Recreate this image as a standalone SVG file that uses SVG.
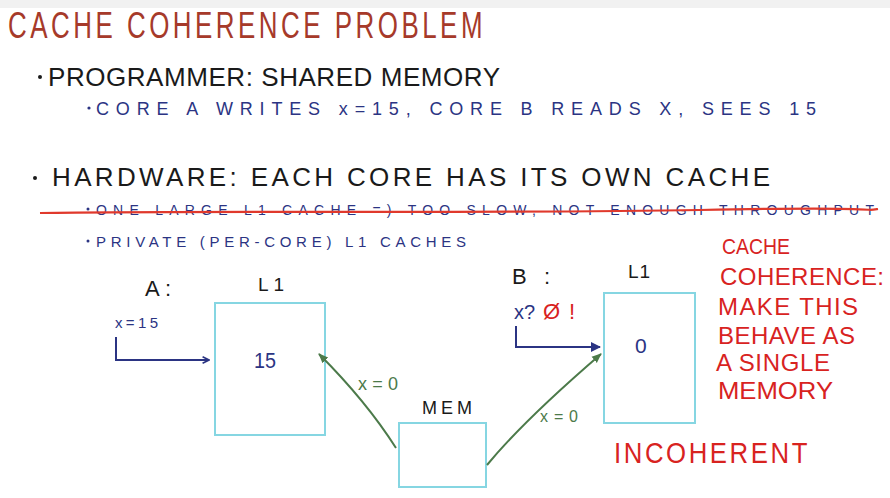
<svg xmlns="http://www.w3.org/2000/svg" width="890" height="498" viewBox="0 0 890 498">
<defs>
<style>
text{font-family:"Liberation Sans","DejaVu Sans",sans-serif;}
.title{fill:#a63a2a;font-size:37px;letter-spacing:5px;}
.blk{fill:#1a1a1a;font-size:26px;}
.blu{fill:#2b3483;font-size:18px;}
.red{fill:#d8231f;font-size:24px;}
.grn{fill:#4c7a4a;font-size:17px;}
.box{fill:none;stroke:#86d6e2;stroke-width:2;}
.bline{fill:none;stroke:#2b3483;stroke-width:2;}
.gline{fill:none;stroke:#4c7a4a;stroke-width:2;}
</style>
<marker id="ab" viewBox="0 0 10 10" refX="9" refY="5" markerWidth="8" markerHeight="8" orient="auto" markerUnits="userSpaceOnUse"><path d="M1,1 L9,5 L1,9" fill="none" stroke="#2b3483" stroke-width="2"/></marker>
<marker id="abf" viewBox="0 0 10 10" refX="9" refY="5" markerWidth="10" markerHeight="10" orient="auto" markerUnits="userSpaceOnUse"><path d="M0,0 L10,5 L0,10 Z" fill="#2b3483"/></marker>
<marker id="ag" viewBox="0 0 10 10" refX="9" refY="5" markerWidth="10" markerHeight="10" orient="auto" markerUnits="userSpaceOnUse"><path d="M0,1 L10,5 L0,9 Z" fill="#4c7a4a"/></marker>
</defs>
<rect width="890" height="498" fill="#ffffff"/>
<rect width="890" height="8" fill="#f1f1f1"/>

<g id="title"><text class="title" x="8" y="38" textLength="478" lengthAdjust="spacingAndGlyphs">CACHE COHERENCE  PROBLEM</text></g>

<g id="text-block">
<circle cx="40" cy="77" r="2" fill="#1a1a1a"/>
<text class="blk" x="48" y="86" textLength="452" lengthAdjust="spacing">PROGRAMMER: SHARED MEMORY</text>
<circle cx="89" cy="108" r="1.6" fill="#2b3483"/>
<text class="blu" x="96" y="115" textLength="720" lengthAdjust="spacing">CORE A WRITES  x=15, CORE  B READS  X, SEES 15</text>
<circle cx="35" cy="178" r="2" fill="#1a1a1a"/>
<text class="blk" x="52" y="186" textLength="718" lengthAdjust="spacing">HARDWARE: EACH CORE  HAS  ITS  OWN  CACHE</text>
<circle cx="88" cy="209" r="1.5" fill="#2b3483"/>
<text class="blu" x="96" y="215" style="font-size:14px" textLength="778" lengthAdjust="spacing">ONE LARGE L1 CACHE =) TOO SLOW, NOT ENOUGH THROUGHPUT</text>
<path d="M40,213 C200,210 500,214 700,210 S860,212 878,209" fill="none" stroke="#e0392c" stroke-width="2.2"/>
<circle cx="88" cy="241" r="1.5" fill="#2b3483"/>
<text class="blu" x="96" y="247" style="font-size:15px" textLength="370" lengthAdjust="spacing">PRIVATE (PER-CORE) L1 CACHES</text>
</g>

<g id="coherence-note">
<text class="red" x="722" y="254" style="font-size:22px" textLength="68" lengthAdjust="spacingAndGlyphs">CACHE</text>
<text class="red" x="720" y="285" textLength="164" lengthAdjust="spacing">COHERENCE:</text>
<text class="red" x="718" y="315" textLength="140" lengthAdjust="spacing">MAKE THIS</text>
<text class="red" x="718" y="344" textLength="137" lengthAdjust="spacing">BEHAVE AS</text>
<text class="red" x="716" y="371" textLength="114" lengthAdjust="spacing">A SINGLE</text>
<text class="red" x="718" y="399" textLength="115" lengthAdjust="spacingAndGlyphs">MEMORY</text>
<text class="red" x="614" y="463" style="font-size:30px;letter-spacing:3px" textLength="196" lengthAdjust="spacingAndGlyphs">INCOHERENT</text>
</g>

<g id="coreA">
<text class="blk" x="145" y="296" style="font-size:22px" textLength="26" lengthAdjust="spacing">A:</text>
<text class="blu" x="115" y="328" style="font-size:15px" textLength="43" lengthAdjust="spacing">x=15</text>
</g>

<g id="cacheA">
<text class="blk" x="258" y="291" style="font-size:19px" textLength="26" lengthAdjust="spacing">L1</text>
<rect class="box" x="215" y="303" width="110" height="132"/>
<text class="blu" x="254" y="368" style="font-size:22px" textLength="22" lengthAdjust="spacingAndGlyphs">15</text>
</g>

<g id="coreB">
<text class="blk" x="512" y="284" style="font-size:22px" textLength="38" lengthAdjust="spacing">B :</text>
<text class="blu" x="514" y="319" style="font-size:20px">x?</text>
<text x="543" y="319" style="font-size:22px;fill:#d8231f" textLength="32" lengthAdjust="spacing">Ø!</text>
</g>

<g id="cacheB">
<text class="blk" x="628" y="278" style="font-size:19px" textLength="22" lengthAdjust="spacing">L1</text>
<rect class="box" x="604" y="293" width="91" height="130"/>
<text class="blu" x="635" y="353" style="font-size:21px">0</text>
</g>

<g id="mem">
<text class="blk" x="422" y="414" style="font-size:18px" textLength="50" lengthAdjust="spacing">MEM</text>
<rect class="box" x="399" y="423" width="87" height="64"/>
</g>

<g id="connectors">
<path class="bline" d="M116,337 L116,360 L209,360" marker-end="url(#ab)"/>
<path class="bline" d="M516,326 L516,347 L600,347" marker-end="url(#abf)"/>
<path class="gline" d="M396,448 C375,415 345,380 319,354" marker-end="url(#ag)"/>
<text class="grn" x="358" y="390" style="font-size:18px" textLength="40" lengthAdjust="spacing">x=0</text>
<path class="gline" d="M487,465 C520,425 565,385 601,354" marker-end="url(#ag)"/>
<text class="grn" x="540" y="422" style="font-size:16px" textLength="38" lengthAdjust="spacing">x=0</text>
</g>
</svg>
